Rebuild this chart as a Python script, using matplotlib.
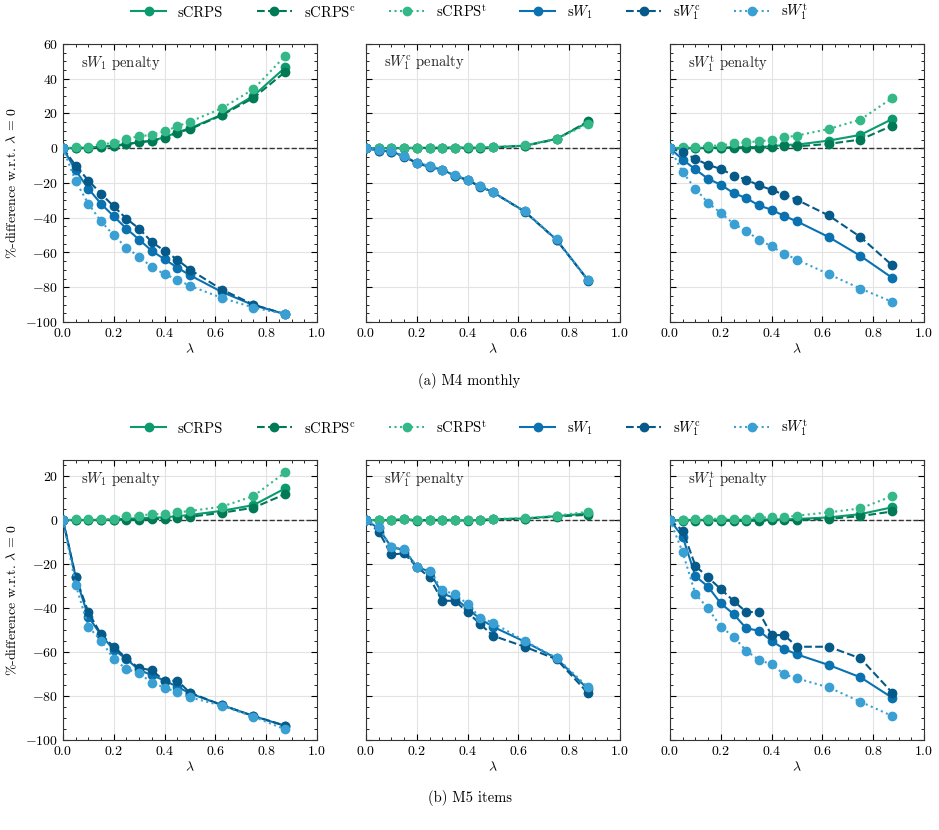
import matplotlib
matplotlib.use("Agg")
import matplotlib.pyplot as plt
import numpy as np

plt.rcParams['font.family'] = 'serif'
plt.rcParams['font.serif'] = ['cmr10', 'DejaVu Serif']
plt.rcParams['mathtext.fontset'] = 'cm'
plt.rcParams['axes.formatter.use_mathtext'] = True
plt.rcParams['font.size'] = 10

lam = [0, 0.05, 0.1, 0.15, 0.2, 0.25, 0.3, 0.35, 0.4, 0.45, 0.5, 0.625, 0.75, 0.875]

labels = ['sCRPS', r'sCRPS$^{\rm c}$', r'sCRPS$^{\rm t}$',
          r's$W_1$', r's$W_1^{\rm c}$', r's$W_1^{\rm t}$']
colors = ['#0a9a6e', '#007a55', '#35b887', '#0a72b0', '#055a8a', '#3aa0d3']
styles = ['-', '--', ':', '-', '--', ':']
panel_titles = [r's$W_1$ penalty', r's$W_1^{\rm c}$ penalty', r's$W_1^{\rm t}$ penalty']

# (a) M4 monthly
m4_w1 = [
    [0, 0.2, 0.4, 1.0, 1.5, 2.5, 3.4, 4.4, 6.3, 9.2, 11.5, 19.3, 30.2, 46.5],
    [0, 0.1, 0.3, 0.8, 1.2, 2.2, 3.5, 4.2, 6.0, 9.0, 11.0, 19.0, 29.0, 44.0],
    [0, 0.6, 1.0, 2.5, 2.9, 5.4, 6.9, 7.7, 9.8, 12.6, 15.3, 23.0, 34.0, 53.2],
    [0, -12.8, -23.3, -32.0, -39.2, -46.3, -52.6, -59.1, -63.9, -68.7, -73.1, -82.7, -90.3, -95.5],
    [0, -10.0, -18.6, -26.2, -33.5, -40.6, -46.3, -54.0, -59.1, -64.1, -69.9, -81.3, -90.0, -95.5],
    [0, -19.0, -32.0, -42.1, -50.1, -57.2, -62.6, -68.3, -72.5, -75.6, -79.2, -86.1, -91.7, -95.5],
]
m4_w1c = [
    [0, 0.1, 0.1, 0.2, 0.2, 0.2, 0.3, 0.3, 0.4, 0.4, 0.6, 1.5, 5.4, 15.0],
    [0, 0.0, 0.1, 0.1, 0.2, 0.2, 0.2, 0.3, 0.4, 0.4, 0.5, 1.4, 5.2, 15.5],
    [0, 0.1, 0.2, 0.2, 0.3, 0.3, 0.3, 0.4, 0.5, 0.5, 0.7, 1.6, 5.4, 14.0],
    [0, -1.3, -1.9, -4.6, -8.4, -10.3, -12.4, -15.7, -18.2, -22.0, -25.3, -36.4, -52.6, -76.0],
    [0, -1.3, -2.3, -4.8, -8.6, -10.8, -12.6, -15.9, -18.4, -22.2, -25.4, -36.5, -52.8, -76.2],
    [0, -1.2, -1.8, -4.5, -8.3, -10.2, -12.3, -15.6, -18.1, -21.9, -25.2, -36.3, -52.5, -75.9],
]
m4_w1t = [
    [0, 0.1, 0.2, 0.3, 0.4, 0.5, 0.6, 0.7, 1.1, 1.9, 2.1, 4.4, 7.7, 16.8],
    [0, 0.0, 0.1, 0.1, 0.2, 0.3, 0.3, 0.4, 0.5, 1.1, 1.1, 2.5, 5.0, 13.0],
    [0, 0.6, 1.0, 1.5, 1.5, 2.9, 3.4, 4.0, 4.8, 6.3, 7.3, 11.1, 16.5, 28.9],
    [0, -6.5, -12.2, -17.6, -21.0, -25.8, -28.7, -32.9, -35.4, -39.0, -42.1, -51.1, -62.0, -74.6],
    [0, -2.3, -6.1, -9.6, -11.9, -15.7, -18.0, -21.4, -23.9, -26.8, -29.7, -38.7, -51.1, -67.4],
    [0, -13.8, -23.3, -31.4, -37.3, -43.4, -47.7, -52.6, -56.5, -60.7, -64.1, -72.5, -80.8, -88.4],
]

# (b) M5 items
m5_w1 = [
    [0, 0.0, 0.1, 0.1, 0.2, 0.6, 0.8, 1.1, 1.2, 1.8, 2.3, 4.2, 6.8, 14.4],
    [0, 0.0, 0.0, 0.0, 0.1, 0.2, 0.0, 0.4, 0.5, 1.0, 1.5, 3.3, 5.6, 11.8],
    [0, 0.3, 0.4, 0.4, 0.5, 2.0, 2.0, 2.7, 2.7, 3.5, 4.1, 6.1, 10.9, 21.7],
    [0, -26.0, -44.0, -52.3, -59.0, -63.2, -68.2, -70.5, -73.0, -75.8, -78.8, -84.1, -89.1, -93.6],
    [0, -25.8, -42.0, -52.0, -57.6, -62.9, -67.4, -68.2, -73.2, -73.0, -78.5, -84.1, -89.1, -93.5],
    [0, -29.5, -48.5, -54.8, -63.3, -67.7, -69.7, -73.9, -76.2, -78.3, -80.6, -84.4, -89.4, -95.2],
]
m5_w1c = [
    [0, 0.0, 0.0, 0.5, -0.2, 0.1, 0.1, 0.0, -0.2, 0.1, 0.4, 0.7, 1.8, 3.0],
    [0, -0.1, -0.1, 0.3, -0.3, 0.0, 0.0, -0.1, -0.3, 0.0, 0.3, 0.6, 1.6, 2.4],
    [0, 0.1, 0.1, 0.6, -0.1, 0.2, 0.2, 0.1, -0.1, 0.2, 0.5, 0.8, 2.0, 3.8],
    [0, -3.8, -12.4, -13.6, -21.2, -23.5, -33.3, -35.6, -40.2, -45.0, -48.5, -55.3, -62.9, -77.0],
    [0, -5.3, -15.6, -15.2, -21.2, -26.1, -36.7, -36.7, -42.0, -47.3, -52.6, -57.6, -63.3, -78.8],
    [0, -3.3, -12.4, -13.0, -21.2, -23.0, -31.8, -33.8, -38.2, -44.4, -46.7, -55.0, -62.6, -76.1],
]
m5_w1t = [
    [0, 0.0, 0.1, 0.1, 0.1, 0.1, 0.2, 0.2, 0.3, 0.3, 0.5, 1.2, 2.7, 5.8],
    [0, -0.3, -0.3, -0.3, -0.3, -0.3, -0.3, -0.3, -0.2, -0.2, 0.0, 0.5, 1.8, 3.9],
    [0, 0.0, 0.6, 0.6, 0.6, 0.6, 0.6, 1.2, 1.2, 1.2, 2.0, 3.5, 5.3, 10.9],
    [0, -7.6, -25.5, -30.3, -37.9, -42.7, -49.2, -50.3, -55.0, -58.6, -61.1, -65.9, -71.5, -80.8],
    [0, -4.8, -20.8, -26.1, -31.4, -36.7, -41.8, -41.8, -52.3, -52.3, -57.6, -57.6, -62.9, -78.5],
    [0, -14.7, -33.6, -40.2, -48.5, -53.0, -59.4, -63.6, -65.6, -70.2, -72.0, -76.1, -82.6, -89.1],
]

rows = [
    ([m4_w1, m4_w1c, m4_w1t], (-100, 60), [60, 40, 20, 0, -20, -40, -60, -80, -100], '(a) M4 monthly'),
    ([m5_w1, m5_w1c, m5_w1t], (-100, 27.3), [20, 0, -20, -40, -60, -80, -100], '(b) M5 items'),
]

W, H = 939, 830
fig = plt.figure(figsize=(W / 100, H / 100), dpi=100)

xs_px = [(63, 317), (366, 620), (670, 924)]
ys_px = [(44, 322), (460, 740)]
leg_y = [12, 428]
cap_y = [381, 798]

for r, (panels, ylim, yticks, caption) in enumerate(rows):
    y0, y1 = ys_px[r]
    handles = []
    for p in range(3):
        x0, x1 = xs_px[p]
        ax = fig.add_axes([x0 / W, 1 - y1 / H, (x1 - x0) / W, (y1 - y0) / H])
        ax.grid(True, color='#e3e3e3', lw=0.8)
        ax.axhline(0, color='#333333', ls='--', lw=1.0, zorder=2)
        for k in range(6):
            ln, = ax.plot(lam, panels[p][k], ls=styles[k], color=colors[k], lw=1.5,
                          marker='o', ms=6, zorder=3)
            if p == 0:
                handles.append(ln)
        ax.set_xlim(0, 1)
        ax.set_ylim(*ylim)
        ax.set_xticks([0, 0.2, 0.4, 0.6, 0.8, 1.0])
        ax.set_yticks(yticks)
        ax.minorticks_on()
        ax.tick_params(which='both', direction='in', top=True, right=True)
        ax.tick_params(which='major', length=4)
        ax.tick_params(which='minor', length=2)
        ax.set_xlabel(r'$\lambda$', labelpad=2)
        if p == 0:
            ax.set_ylabel(r'%-difference w.r.t. $\lambda\,=\,0$')
        else:
            ax.tick_params(labelleft=False)
        for s in ax.spines.values():
            s.set_color('#333333')
        ax.text(0.07, 0.965, panel_titles[p], transform=ax.transAxes,
                ha='left', va='top', fontsize=10.5, color='#222222')
    fig.legend(handles, labels, loc='center', bbox_to_anchor=(0.5, 1 - leg_y[r] / H),
               ncol=6, frameon=False, handlelength=2.4, columnspacing=2.3,
               fontsize=10.5)
    fig.text(0.5, 1 - cap_y[r] / H, caption, ha='center', va='center', fontsize=10.5)

fig.savefig('out.png', dpi=100)
